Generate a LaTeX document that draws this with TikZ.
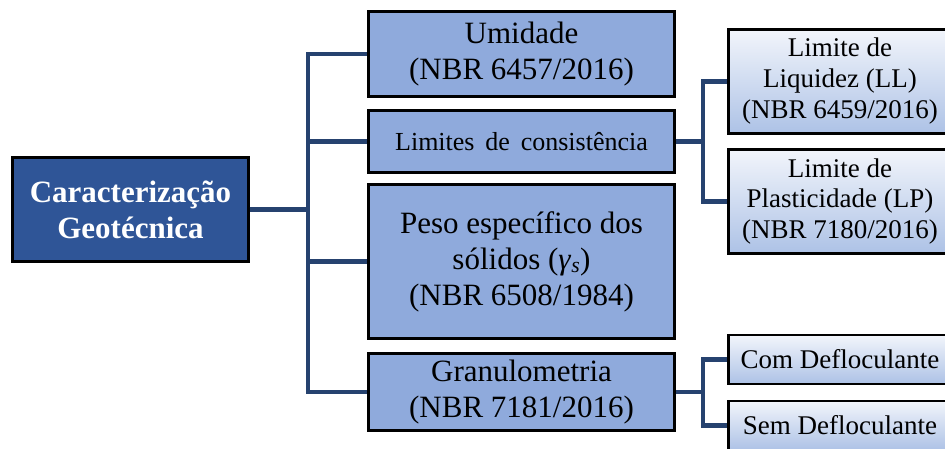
\documentclass[tikz,border=0pt]{standalone}
\usepackage{fontspec}
\setmainfont{Liberation Serif}
\definecolor{mainblue}{HTML}{2F5597}
\definecolor{midblue}{HTML}{8FAADC}
\definecolor{connc}{HTML}{26426F}
\definecolor{gradtop}{HTML}{F2F5FB}
\definecolor{gradbot}{HTML}{ADC2E6}
\begin{document}
\begin{tikzpicture}[x=1pt,y=-1pt,
  mainbox/.style={draw=black, line width=2.8pt, fill=mainblue, text=white, align=center, inner sep=0pt,
    font=\fontsize{31}{36}\selectfont\bfseries},
  midbox/.style={draw=black, line width=2.8pt, fill=midblue, align=center, inner sep=0pt,
    minimum width=306pt, font=\fontsize{31}{36}\selectfont},
  subbox/.style={draw=black, line width=2.8pt, top color=gradtop, bottom color=gradbot, align=center, inner sep=0pt,
    minimum width=223pt, font=\fontsize{27}{31}\selectfont},
  conn/.style={draw=connc, line width=4.5pt}
]
\useasboundingbox (0,0) rectangle (945,448);
\clip (0,0) rectangle (945,448);
\fill[white] (0,0) rectangle (945,448);

\node[mainbox, minimum width=236pt, minimum height=104pt] (main) at (130.5,209.5) {Caracterização\\Geotécnica};

\node[midbox, minimum height=85pt] (umid) at (521.5,54) {Umidade\\(NBR 6457/2016)};
\node[midbox, minimum height=62pt, font=\fontsize{26}{30}\selectfont] (lim) at (521.5,141.5) {Limites\, de\, consistência};
\node[midbox, minimum height=154pt] (peso) at (521.5,261.5) {Peso específico dos\\sólidos (\textit{γ}\textsubscript{\textit{s}})\\(NBR 6508/1984)};
\node[midbox, minimum height=77pt] (gran) at (521.5,392) {Granulometria\\(NBR 7181/2016)};

\node[subbox, minimum height=104pt] (ll) at (840,81.5) {Limite de\\Liquidez (LL)\\(NBR 6459/2016)};
\node[subbox, minimum height=104pt] (lp) at (840,201.5) {Limite de\\Plasticidade (LP)\\(NBR 7180/2016)};
\node[subbox, minimum height=49pt] (com) at (840,359.5) {Com Defloculante};
\node[subbox, minimum height=49pt] (sem) at (840,425.5) {Sem Defloculante};

\draw[conn] (main.east) -- ++(58,0) |- (umid.west);
\draw[conn] (main.east) -- ++(58,0) |- (lim.west);
\draw[conn] (main.east) -- ++(58,0) |- (peso.west);
\draw[conn] (main.east) -- ++(58,0) |- (gran.west);

\draw[conn] (lim.east) -- ++(27,0) |- (ll.west);
\draw[conn] (lim.east) -- ++(27,0) |- (lp.west);
\draw[conn] (gran.east) -- ++(27,0) |- (com.west);
\draw[conn] (gran.east) -- ++(27,0) |- (sem.west);
\end{tikzpicture}
\end{document}
